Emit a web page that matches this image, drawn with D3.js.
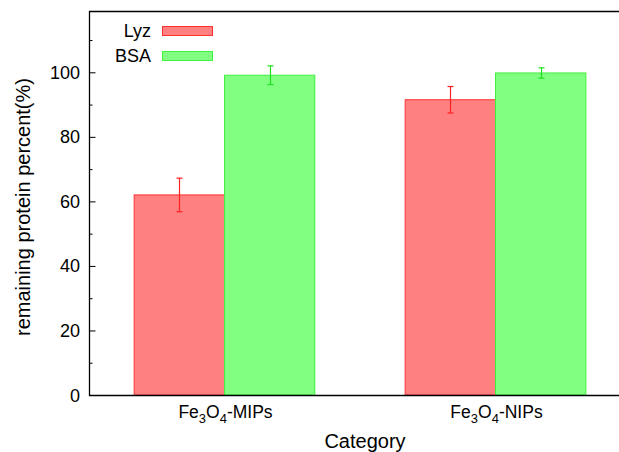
<!DOCTYPE html>
<html><head><meta charset="utf-8">
<script src="https://cdn.jsdelivr.net/npm/d3@7"></script>
<style>body{margin:0;background:#fff;} svg{display:block;font-family:"Liberation Sans",Arial,Helvetica,sans-serif;}</style>
</head><body>
<svg id="c" width="619" height="452"></svg>
<script>
const categories = ["MIPs", "NIPs"];
const series = ["Lyz", "BSA"];
const lyzValues = [62.0, 91.5];
const lyzErrors = [5.2, 4.1];
const bsaValues = [99.1, 99.8];
const bsaErrors = [2.9, 1.6];
const yTicks = [0, 20, 40, 60, 80, 100];
const yMinorTicks = [10, 30, 50, 70, 90, 110];

const fills = {Lyz: "#ff8080", BSA: "#80ff80"};
const strokes = {Lyz: "#ff3030", BSA: "#40f040"};
const errColors = {Lyz: "#ff2020", BSA: "#20e020"};

const svg = d3.select("#c");
const L = 89, R = 631, T = 11, B = 395;
const x = d3.scaleBand().domain(categories).range([L, R]).paddingInner(1/3).paddingOuter(1/6);
const xs = d3.scaleBand().domain(series).range([0, x.bandwidth()]);
const y = d3.scaleLinear().domain([0, 119]).range([B, T]);

const data = [];
categories.forEach((c, i) => {
  data.push({cat: c, s: "Lyz", v: lyzValues[i], e: lyzErrors[i]});
  data.push({cat: c, s: "BSA", v: bsaValues[i], e: bsaErrors[i]});
});

// bars
svg.append("g").selectAll("rect").data(data).join("rect")
  .attr("x", d => x(d.cat) + xs(d.s))
  .attr("y", d => y(d.v))
  .attr("width", xs.bandwidth())
  .attr("height", d => y(0) - y(d.v))
  .attr("fill", d => fills[d.s])
  .attr("stroke", d => strokes[d.s])
  .attr("stroke-width", 1);

// error bars
const eg = svg.append("g");
data.forEach(d => {
  const cx = Math.round(x(d.cat) + xs(d.s) + xs.bandwidth()/2) + 0.5;
  const col = errColors[d.s];
  eg.append("line").attr("x1", cx).attr("x2", cx).attr("y1", y(d.v + d.e)).attr("y2", y(d.v - d.e)).attr("stroke", col).attr("stroke-width", 1.2);
  [d.v + d.e, d.v - d.e].forEach(v => {
    eg.append("line").attr("x1", cx - 3).attr("x2", cx + 3).attr("y1", y(v)).attr("y2", y(v)).attr("stroke", col).attr("stroke-width", 1.2);
  });
});

// frame
svg.append("path").attr("d", `M${R},${T+0.5}H${L+0.5}V${B+0.5}H${R}`).attr("fill","none").attr("stroke","#000").attr("stroke-width",1.3);

// y axis
const yAxis = d3.axisRight(y).tickValues(yTicks).tickSize(6).tickFormat("");
const ga = svg.append("g").attr("transform", `translate(${L+0.5},0)`).call(yAxis);
ga.select(".domain").remove();
ga.selectAll(".tick line").attr("stroke","#000");
const yMinor = d3.axisRight(y).tickValues(yMinorTicks).tickSize(3).tickFormat("");
const gm = svg.append("g").attr("transform", `translate(${L+0.5},0)`).call(yMinor);
gm.select(".domain").remove();
gm.selectAll(".tick line").attr("stroke","#000");

svg.append("g").selectAll("text").data(yTicks).join("text")
  .attr("x", 80).attr("y", d => y(d) + 6.5)
  .attr("text-anchor","end").attr("font-size", 18).attr("fill","#000")
  .text(d => d);

// x labels
const xl = svg.append("g").selectAll("text").data(categories).join("text")
  .attr("x", d => x(d) + x.bandwidth()/2 + 1).attr("y", 418)
  .attr("text-anchor","middle").attr("font-size", 17.5).attr("fill","#000");
xl.each(function(d){
  const t = d3.select(this);
  t.append("tspan").text("Fe");
  t.append("tspan").attr("font-size", 13).attr("dy", 5).text("3");
  t.append("tspan").attr("dy", -5).text("O");
  t.append("tspan").attr("font-size", 13).attr("dy", 5).text("4");
  t.append("tspan").attr("dy", -5).text("-" + d);
});

svg.append("text").attr("x", 365).attr("y", 448).attr("text-anchor","middle").attr("font-size", 20).attr("fill","#000").text("Category");
svg.append("text").attr("transform", `translate(29.5,207) rotate(-90)`).attr("text-anchor","middle").attr("font-size", 20).attr("fill","#000").text("remaining protein percent(%)");

// legend
const lg = svg.append("g").selectAll("g").data(series).join("g")
  .attr("transform", (d, i) => `translate(0,${i * 25})`);
lg.append("text").attr("x", 151).attr("y", 36.7).attr("text-anchor","end").attr("font-size", 18).attr("fill","#000").text(d => d);
lg.append("rect").attr("x", 162.5).attr("y", 26.5).attr("width", 50).attr("height", 9)
  .attr("fill", d => fills[d]).attr("stroke", d => strokes[d]).attr("stroke-width", 1);
</script>
</body></html>
